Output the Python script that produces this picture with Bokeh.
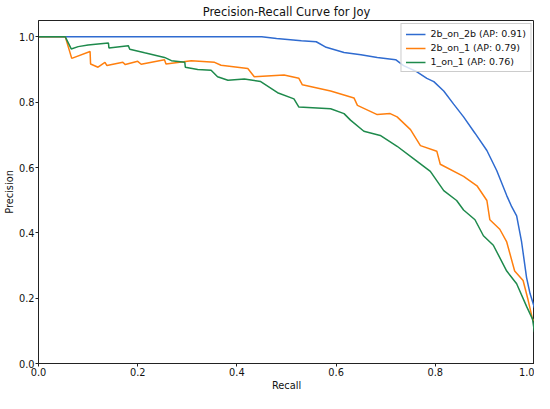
from bokeh.plotting import figure
from bokeh.models import Range1d, FixedTicker, NumeralTickFormatter
from bokeh.embed import file_html
from bokeh.resources import INLINE

# values (recall, precision)
recall_2b_on_2b = [0.0, 0.45, 0.48, 0.53, 0.56, 0.58, 0.616, 0.65, 0.683, 0.72, 0.736, 0.763,
                   0.783, 0.797, 0.817, 0.837, 0.857, 0.88, 0.904, 0.924, 0.944, 0.954, 0.964,
                   0.974, 0.984, 0.991, 0.999, 1.0]
precision_2b_on_2b = [1.0, 1.0, 0.995, 0.988, 0.985, 0.968, 0.952, 0.945, 0.937, 0.93, 0.912, 0.893,
                      0.873, 0.863, 0.834, 0.794, 0.755, 0.705, 0.652, 0.59, 0.514, 0.48, 0.452,
                      0.372, 0.263, 0.214, 0.175, 0.17]

recall_2b_on_1 = [0.0, 0.054, 0.067, 0.104, 0.105, 0.12, 0.134, 0.138, 0.17, 0.175, 0.2, 0.207,
                  0.254, 0.257, 0.308, 0.355, 0.368, 0.422, 0.435, 0.495, 0.525, 0.532, 0.589,
                  0.636, 0.643, 0.683, 0.709, 0.723, 0.75, 0.77, 0.803, 0.81, 0.857, 0.884, 0.904,
                  0.91, 0.93, 0.944, 0.96, 0.977, 0.987, 0.996, 1.0]
precision_2b_on_1 = [1.0, 1.0, 0.934, 0.955, 0.917, 0.907, 0.922, 0.912, 0.922, 0.915, 0.925, 0.916,
                     0.93, 0.917, 0.927, 0.922, 0.913, 0.903, 0.878, 0.883, 0.873, 0.853, 0.834,
                     0.813, 0.79, 0.762, 0.765, 0.755, 0.716, 0.667, 0.65, 0.61, 0.573, 0.544, 0.499,
                     0.44, 0.411, 0.372, 0.283, 0.254, 0.195, 0.136, 0.13]

recall_1_on_1 = [0.0, 0.054, 0.066, 0.08, 0.1, 0.12, 0.141, 0.142, 0.181, 0.184, 0.214, 0.254,
                 0.268, 0.295, 0.296, 0.321, 0.348, 0.361, 0.382, 0.415, 0.448, 0.482, 0.515, 0.525,
                 0.589, 0.616, 0.629, 0.656, 0.689, 0.723, 0.756, 0.79, 0.817, 0.843, 0.857, 0.88,
                 0.897, 0.917, 0.944, 0.964, 0.984, 0.996, 1.0]
precision_1_on_1 = [1.0, 1.0, 0.963, 0.970, 0.975, 0.978, 0.981, 0.966, 0.973, 0.962, 0.951, 0.937,
                    0.927, 0.922, 0.907, 0.900, 0.898, 0.878, 0.867, 0.871, 0.863, 0.829, 0.810, 0.785,
                    0.780, 0.765, 0.745, 0.711, 0.698, 0.665, 0.627, 0.588, 0.529, 0.499, 0.470, 0.440,
                    0.391, 0.362, 0.283, 0.244, 0.175, 0.136, 0.096]

labels = ["2b_on_2b (AP: 0.91)", "2b_on_1 (AP: 0.79)", "1_on_1 (AP: 0.76)"]
ticks = [0.0, 0.2, 0.4, 0.6, 0.8, 1.0]

FONT = "DejaVu Sans"
INK = "#111111"

p = figure(width=534, height=393, output_backend="svg", toolbar_location=None,
           title="Precision-Recall Curve for Joy",
           x_range=Range1d(0, 1), y_range=Range1d(0, 1.05))
p.min_border_left, p.min_border_right, p.min_border_top, p.min_border_bottom = 6, 0, 2, 0
p.title.text_font, p.title.text_font_size, p.title.text_font_style, p.title.align = FONT, "11.5px", "normal", "center"
p.title.text_color = INK
p.title.standoff = 4
p.grid.visible = False
p.outline_line_color = "#222222"
p.outline_line_alpha = 1

for ax, lab in ((p.xaxis, "Recall"), (p.yaxis, "Precision")):
    ax.axis_label = lab
    ax.axis_label_text_font = FONT
    ax.axis_label_text_font_size = "9.8px"
    ax.axis_label_text_font_style = "normal"
    ax.axis_label_text_color = INK
    ax.axis_label_standoff = 1
    ax.major_label_text_font = FONT
    ax.major_label_text_font_size = "9.8px"
    ax.major_label_text_color = INK
    ax.major_label_standoff = 1
    ax.ticker = FixedTicker(ticks=ticks)
    ax.formatter = NumeralTickFormatter(format="0.0")
    ax.minor_tick_line_color = None
    ax.major_tick_in = 0
    ax.major_tick_out = 3
    ax.axis_line_color = "#222222"
    ax.major_tick_line_color = "#222222"

series = [(recall_2b_on_2b, precision_2b_on_2b, "#2f6bd0"),
          (recall_2b_on_1, precision_2b_on_1, "#ff7f0e"),
          (recall_1_on_1, precision_1_on_1, "#1e8a4c")]
for (r, pr, c), lab in zip(series, labels):
    p.line(r, pr, line_color=c, line_width=1.5, legend_label=lab)

p.legend.location = "top_right"
p.legend.label_text_font = FONT
p.legend.label_text_font_size = "9.5px"
p.legend.label_text_color = INK
p.legend.border_line_color = "#cccccc"
p.legend.border_line_alpha = 1
p.legend.background_fill_alpha = 0.8
p.legend.glyph_width = 20
p.legend.glyph_height = 10
p.legend.label_height = 10
p.legend.label_standoff = 5
p.legend.spacing = 3
p.legend.padding = 4
p.legend.margin = 3

open("out.html", "w").write(file_html(p, INLINE))
